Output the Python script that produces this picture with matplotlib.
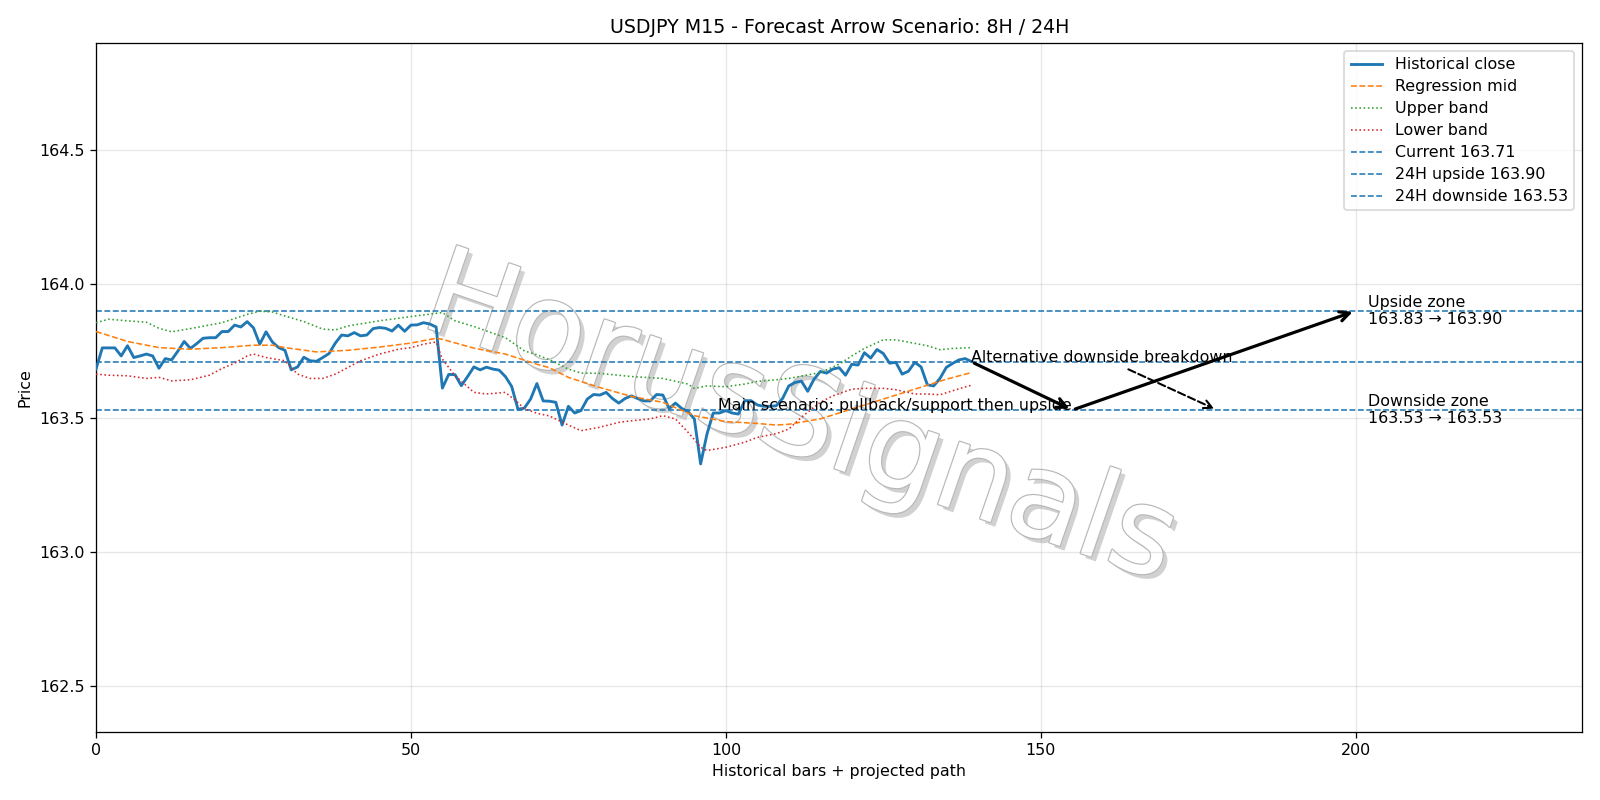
import numpy as np
import matplotlib
matplotlib.use("Agg")
import matplotlib.pyplot as plt
import matplotlib.patheffects as pe

# ---------------- data ----------------
close = [163.683, 163.762, 163.762, 163.762, 163.732, 163.770, 163.726, 163.732, 163.739, 163.732,
         163.686, 163.722, 163.717, 163.750, 163.786, 163.760, 163.778, 163.798, 163.800, 163.800,
         163.823, 163.823, 163.847, 163.840, 163.860, 163.837, 163.776, 163.822, 163.784, 163.763,
         163.753, 163.680, 163.691, 163.727, 163.714, 163.712, 163.726, 163.741, 163.780, 163.810,
         163.807, 163.819, 163.807, 163.810, 163.834, 163.838, 163.835, 163.825, 163.847, 163.824,
         163.847, 163.848, 163.856, 163.851, 163.840, 163.612, 163.663, 163.662, 163.621, 163.655,
         163.691, 163.680, 163.690, 163.683, 163.679, 163.655, 163.618, 163.533, 163.537, 163.571,
         163.629, 163.564, 163.563, 163.559, 163.474, 163.544, 163.519, 163.528, 163.571, 163.588,
         163.586, 163.596, 163.573, 163.556, 163.573, 163.583, 163.573, 163.564, 163.564, 163.588,
         163.586, 163.536, 163.556, 163.536, 163.524, 163.497, 163.329, 163.440, 163.519, 163.519,
         163.528, 163.519, 163.515, 163.565, 163.565, 163.549, 163.544, 163.544, 163.546, 163.573,
         163.620, 163.633, 163.638, 163.600, 163.645, 163.674, 163.668, 163.683, 163.688, 163.660,
         163.701, 163.698, 163.744, 163.724, 163.756, 163.741, 163.705, 163.708, 163.664, 163.675,
         163.708, 163.691, 163.624, 163.620, 163.648, 163.689, 163.704, 163.717, 163.722, 163.711]

mid_x = [0, 5, 10, 15, 20, 25, 28, 30, 35, 40, 45, 50, 54, 55, 60, 65, 70, 72, 75, 80, 85,
         90, 95, 100, 105, 108, 110, 115, 120, 125, 130, 135, 139]
mid = [163.823, 163.786, 163.763, 163.757, 163.763, 163.772, 163.772, 163.763, 163.747, 163.753,
       163.765, 163.780, 163.798, 163.794, 163.761, 163.739, 163.701, 163.688, 163.652, 163.614,
       163.581, 163.559, 163.509, 163.487, 163.480, 163.474, 163.477, 163.497, 163.534, 163.571,
       163.608, 163.645, 163.670]

up_x = [0, 2, 5, 8, 10, 12, 15, 20, 24, 26, 28, 30, 33, 36, 38, 40, 45, 50, 54, 55, 57, 60, 65,
        68, 70, 72, 75, 77, 80, 85, 90, 94, 95, 97, 100, 103, 105, 108, 110, 115, 118, 120, 122,
        125, 127, 130, 132, 134, 136, 139]
upper = [163.856, 163.869, 163.863, 163.858, 163.835, 163.822, 163.834, 163.856, 163.887, 163.899,
         163.896, 163.881, 163.860, 163.832, 163.829, 163.844, 163.863, 163.879, 163.891, 163.894,
         163.863, 163.842, 163.800, 163.751, 163.736, 163.718, 163.683, 163.668, 163.667, 163.655,
         163.648, 163.627, 163.611, 163.620, 163.617, 163.627, 163.637, 163.643, 163.648, 163.670,
         163.701, 163.732, 163.760, 163.792, 163.792, 163.779, 163.770, 163.755, 163.760, 163.763]

lo_x = [0, 2, 5, 8, 10, 12, 15, 18, 20, 22, 24, 25, 27, 30, 32, 34, 36, 38, 40, 42, 45, 48, 50,
        52, 54, 55, 57, 60, 62, 65, 67, 68, 70, 72, 75, 77, 80, 83, 85, 88, 90, 92, 94, 95, 96,
        97, 100, 103, 105, 108, 110, 112, 115, 117, 120, 122, 125, 127, 130, 132, 134, 136, 139]
lower = [163.664, 163.660, 163.658, 163.648, 163.652, 163.639, 163.643, 163.660, 163.685, 163.705,
         163.732, 163.739, 163.726, 163.714, 163.664, 163.648, 163.648, 163.664, 163.689, 163.714,
         163.739, 163.757, 163.763, 163.776, 163.784, 163.720, 163.658, 163.596, 163.590, 163.596,
         163.558, 163.535, 163.518, 163.508, 163.474, 163.453, 163.466, 163.484, 163.490, 163.497,
         163.509, 163.497, 163.447, 163.420, 163.391, 163.379, 163.391, 163.410, 163.428, 163.442,
         163.459, 163.503, 163.559, 163.583, 163.608, 163.611, 163.611, 163.606, 163.590, 163.590,
         163.587, 163.602, 163.623]

current = 163.71
up_target = 163.90
down_target = 163.53
up_zone = (163.83, 163.90)
down_zone = (163.53, 163.53)

last_x = 139
pullback_x = 155
up_end_x = 200
alt_end_x = 178
zone_text_x = 202

title = "USDJPY M15 - Forecast Arrow Scenario: 8H / 24H"
watermark = "HorusSignals"

# ---------------- plot ----------------
DPI = 1600 / 14
fig = plt.figure(figsize=(14, 7), dpi=DPI)
ax = fig.add_axes([0.06, 0.0855, 0.929, 0.8608])

# watermark (behind the data)
ax.text(0.5, 0.473, watermark, transform=fig.transFigure, fontsize=76, rotation=-19,
        ha="center", va="center", color="white", zorder=0.5,
        path_effects=[pe.withSimplePatchShadow(offset=(3, -3), shadow_rgbFace="0.7", alpha=0.6),
                      pe.withStroke(linewidth=1.5, foreground="0.72")])

x = np.arange(len(close))
ax.plot(x, close, color="C0", lw=1.8, label="Historical close", zorder=3)
ax.plot(mid_x, mid, color="C1", lw=1.0, ls="--", label="Regression mid", zorder=3)
ax.plot(up_x, upper, color="C2", lw=1.0, ls=":", label="Upper band", zorder=3)
ax.plot(lo_x, lower, color="C3", lw=1.0, ls=":", label="Lower band", zorder=3)
ax.axhline(current, color="C0", lw=1.0, ls="--", label=f"Current {current:.2f}")
ax.axhline(up_target, color="C0", lw=1.0, ls="--", label=f"24H upside {up_target:.2f}")
ax.axhline(down_target, color="C0", lw=1.0, ls="--", label=f"24H downside {down_target:.2f}")

# arrows
ax.annotate("", xy=(pullback_x, down_target), xytext=(last_x, current),
            arrowprops=dict(arrowstyle="->", lw=2.0, color="black", mutation_scale=15), zorder=5)
ax.annotate("", xy=(up_end_x, up_target), xytext=(pullback_x, down_target),
            arrowprops=dict(arrowstyle="->", lw=2.0, color="black", mutation_scale=15), zorder=5)
ax.annotate("Alternative downside breakdown", xy=(alt_end_x, down_target),
            xytext=(last_x, current), fontsize=10,
            arrowprops=dict(arrowstyle="->", lw=1.3, ls="--", color="black", mutation_scale=13),
            zorder=5)
ax.text(pullback_x, down_target, "Main scenario: pullback/support then upside",
        ha="right", va="baseline", fontsize=10, zorder=4)
ax.text(zone_text_x, up_target,
        f"Upside zone\n{up_zone[0]:.2f} \u2192 {up_zone[1]:.2f}", va="center", fontsize=10)
ax.text(zone_text_x, down_target,
        f"Downside zone\n{down_zone[0]:.2f} \u2192 {down_zone[1]:.2f}", va="center", fontsize=10)

ax.set_xlim(0, 236)
ax.set_ylim(162.33, 164.90)
ax.set_xticks([0, 50, 100, 150, 200])
ax.set_yticks([162.5, 163.0, 163.5, 164.0, 164.5])
ax.grid(True, alpha=0.3)
ax.set_title(title, fontsize=12)
ax.set_xlabel("Historical bars + projected path")
ax.set_ylabel("Price")
ax.legend(loc="upper right", fontsize=10, labelspacing=0.44)

fig.savefig("out.png", dpi=DPI)
